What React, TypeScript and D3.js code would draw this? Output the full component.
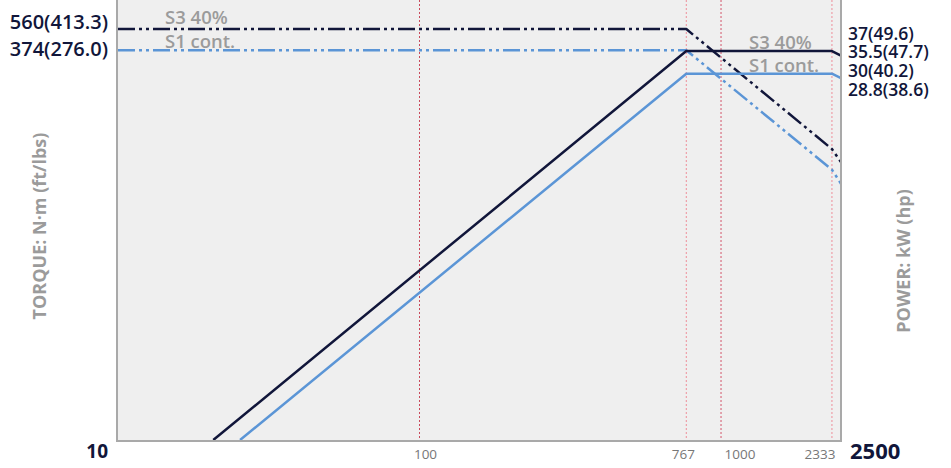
import React, { useEffect } from "react";
import * as d3 from "d3";

// ---- data (speed in rpm, values in chart units on a shared log axis) ----
const xTicks = [100, 767, 1000, 2333];
const xEnds = [10, 2500];
const s3PowerSpeed = [20.7, 767, 2333, 2500];
const s3PowerValue = [1, 37, 37, 35.5];
const s1PowerSpeed = [25.4, 767, 2333, 2500];
const s1PowerValue = [1, 30, 30, 28.8];
const s3TorqueSpeed = [10, 767, 2333, 2500];
const s3TorqueValue = [45.4, 45.4, 14.9, 13.2];
const s1TorqueSpeed = [10, 767, 2333, 2500];
const s1TorqueValue = [37.3, 37.3, 12.3, 10.8];
const torqueLabels = ["560(413.3)", "374(276.0)"];
const powerLabels = ["37(49.6)", "35.5(47.7)", "30(40.2)", "28.8(38.6)"];
const seriesNames = ["S3 40%", "S1 cont."];

const W = 951;
const H = 468;
const L = 118;
const R = 841;
const T = 0;
const B = 440;

const NAVY = "#11163a";
const BLUE = "#5b95d6";
const GRAY = "#9b9b9b";
const FONT = "'Open Sans', 'Noto Sans', sans-serif";
const DASH = "17,4,3,4,3,4";

export default function App() {
  useEffect(() => {
    document.body.style.margin = "0";
  }, []);

  const x = d3.scaleLog().domain(xEnds).range([L, R]);
  const y = d3.scaleLog().domain([1, Math.pow(10, (B - T) / 248)]).range([B, T]);
  const line = d3
    .line<[number, number]>()
    .x((d) => x(d[0]))
    .y((d) => y(d[1]));
  const pts = (s: number[], v: number[]) => s.map((d, i) => [d, v[i]] as [number, number]);

  const tickStyle: Record<number, { dx: number; color: string }> = {
    100: { dx: 6, color: "#c94a5c" },
    767: { dx: -3, color: "#ee8e9a" },
    1000: { dx: 19, color: "#d3566a" },
    2333: { dx: -12, color: "#ee8e9a" },
  };

  const torqueLabelY = [24, 51];
  const powerLabelY = [35, 53, 72, 91];

  return (
    <svg width={W} height={H} style={{ display: "block" }} fontFamily={FONT}>
      <defs>
        <clipPath id="plot">
          <rect x={L} y={T} width={R - L} height={B - T} />
        </clipPath>
      </defs>
      <rect x={L} y={T} width={R - L} height={B - T} fill="#efefef" />
      {xTicks.map((t) => (
        <line
          key={t}
          x1={x(t)}
          x2={x(t)}
          y1={T}
          y2={B}
          stroke={tickStyle[t].color}
          strokeWidth={1}
          strokeDasharray="2,2"
        />
      ))}
      <g clipPath="url(#plot)" fill="none" strokeLinejoin="round">
        <path d={line(pts(s3TorqueSpeed, s3TorqueValue)) || ""} stroke={NAVY} strokeWidth={2.5} strokeDasharray={DASH} />
        <path d={line(pts(s1TorqueSpeed, s1TorqueValue)) || ""} stroke={BLUE} strokeWidth={2.5} strokeDasharray={DASH} />
        <path d={line(pts(s3PowerSpeed, s3PowerValue)) || ""} stroke={NAVY} strokeWidth={2.5} />
        <path d={line(pts(s1PowerSpeed, s1PowerValue)) || ""} stroke={BLUE} strokeWidth={2.5} />
      </g>
      {/* frame */}
      <line x1={L - 1} x2={L - 1} y1={T} y2={B + 1} stroke="#a9a9a9" strokeWidth={2} />
      <line x1={R} x2={R} y1={T} y2={B + 1} stroke="#a9a9a9" strokeWidth={2} />
      <line x1={L - 2} x2={R + 1} y1={B + 1} y2={B + 1} stroke="#a9a9a9" strokeWidth={2} />

      {/* series names */}
      <text x={165} y={24} fill={GRAY} fontSize={18.5} fontWeight={600}>{seriesNames[0]}</text>
      <text x={165} y={48} fill={GRAY} fontSize={18.5} fontWeight={600}>{seriesNames[1]}</text>
      <text x={749} y={49} fill={GRAY} fontSize={18.5} fontWeight={600}>{seriesNames[0]}</text>
      <text x={749} y={72} fill={GRAY} fontSize={18.5} fontWeight={600}>{seriesNames[1]}</text>

      {/* torque labels */}
      {torqueLabels.map((t, i) => (
        <text key={t} x={108} y={torqueLabelY[i]} fill={NAVY} fontSize={20} fontWeight={600} textAnchor="end" dominantBaseline="middle">
          {t}
        </text>
      ))}
      {/* power labels */}
      {powerLabels.map((t, i) => (
        <text key={t} x={848} y={powerLabelY[i]} fill={NAVY} fontSize={17.5} fontWeight={600} dominantBaseline="middle">
          {t}
        </text>
      ))}

      {/* x tick labels */}
      {xTicks.map((t) => (
        <text key={t} x={x(t) + tickStyle[t].dx} y={455} fill="#777" fontSize={13.5} textAnchor="middle" dominantBaseline="middle">
          {t}
        </text>
      ))}
      <text x={108} y={453} fill={NAVY} fontSize={19} fontWeight={700} textAnchor="end" dominantBaseline="middle">{xEnds[0]}</text>
      <text x={850} y={453} fill={NAVY} fontSize={22} fontWeight={700} dominantBaseline="middle">{xEnds[1]}</text>

      {/* axis titles */}
      <text transform="translate(41,226) rotate(-90)" fill={GRAY} fontSize={18} fontWeight={700} textAnchor="middle" dominantBaseline="middle">
        TORQUE: N·m (ft/lbs)
      </text>
      <text transform="translate(905,261) rotate(-90)" fill={GRAY} fontSize={18} fontWeight={700} textAnchor="middle" dominantBaseline="middle">
        POWER: kW (hp)
      </text>
    </svg>
  );
}
